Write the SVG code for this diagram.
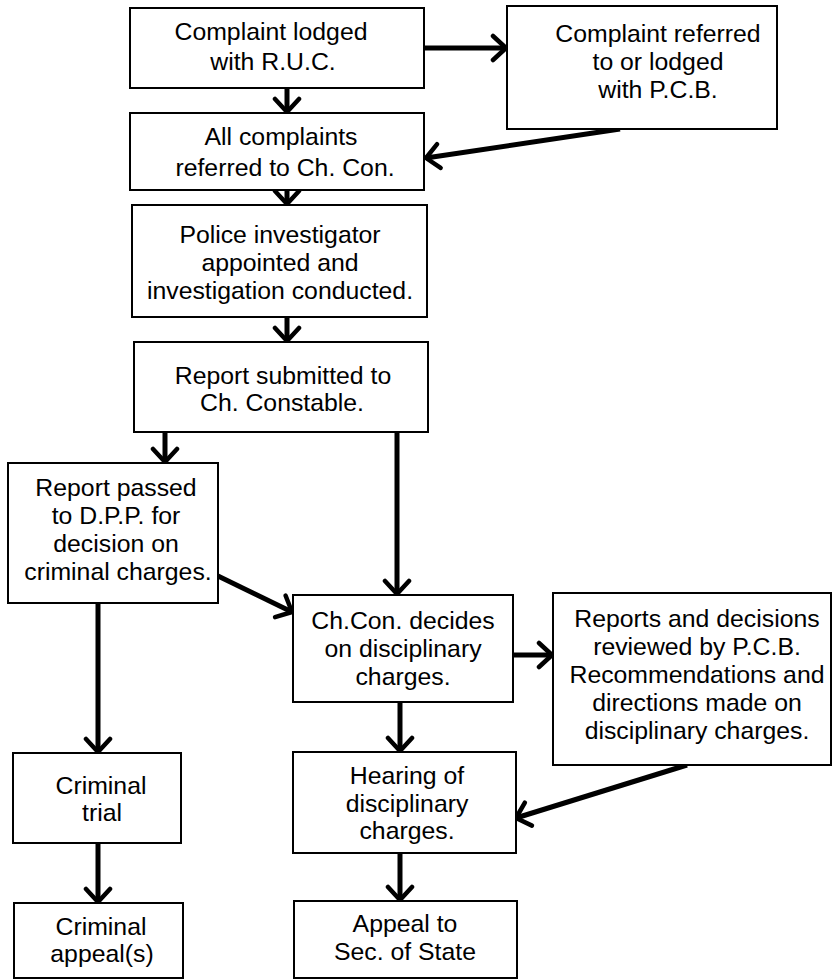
<svg xmlns="http://www.w3.org/2000/svg" width="834" height="980" viewBox="0 0 834 980">
<style>
  .box { fill: #fff; stroke: #000; stroke-width: 2; }
  .t { font-family: "Liberation Sans", Arial, sans-serif; font-size: 24.8px; fill: #000; text-anchor: middle; }
  .c { fill: none; stroke: #000; stroke-width: 5; }
</style>
<defs>
  <marker id="ah" viewBox="-18 -15 22 30" refX="0" refY="0" markerWidth="22" markerHeight="30" markerUnits="userSpaceOnUse" orient="auto">
    <path d="M-13,-12 L0,0 L-13,12" fill="none" stroke="#000" stroke-width="4.5" stroke-linejoin="round" stroke-linecap="round"/>
  </marker>
</defs>
<rect width="834" height="980" fill="#fff"/>

<g id="connectors">
  <line class="c" x1="287" y1="88" x2="287" y2="112" marker-end="url(#ah)"/>
  <line class="c" x1="424" y1="48" x2="506" y2="48" marker-end="url(#ah)"/>
  <line class="c" x1="620" y1="129" x2="426" y2="158" marker-end="url(#ah)"/>
  <line class="c" x1="287" y1="190" x2="287" y2="204" marker-end="url(#ah)"/>
  <line class="c" x1="287" y1="317" x2="287" y2="341" marker-end="url(#ah)"/>
  <line class="c" x1="165" y1="432" x2="165" y2="462" marker-end="url(#ah)"/>
  <line class="c" x1="397" y1="432" x2="397" y2="594" marker-end="url(#ah)"/>
  <line class="c" x1="218" y1="576" x2="292" y2="612" marker-end="url(#ah)"/>
  <line class="c" x1="98" y1="603" x2="98" y2="752" marker-end="url(#ah)"/>
  <line class="c" x1="98" y1="843" x2="98" y2="902" marker-end="url(#ah)"/>
  <line class="c" x1="513" y1="655" x2="552" y2="655" marker-end="url(#ah)"/>
  <line class="c" x1="400" y1="702" x2="400" y2="751" marker-end="url(#ah)"/>
  <line class="c" x1="687" y1="765" x2="516" y2="818" marker-end="url(#ah)"/>
  <line class="c" x1="400" y1="853" x2="400" y2="900" marker-end="url(#ah)"/>
</g>

<g id="n-lodged-ruc">
  <rect class="box" x="130" y="8" width="294" height="80"/>
  <text class="t" x="271" y="40">Complaint lodged</text>
  <text class="t" x="273" y="70">with R.U.C.</text>
</g>

<g id="n-pcb">
  <rect class="box" x="507" y="6" width="270" height="123"/>
  <text class="t" x="658" y="42">Complaint referred</text>
  <text class="t" x="658" y="70">to or lodged</text>
  <text class="t" x="658" y="98">with P.C.B.</text>
</g>

<g id="n-all-complaints">
  <rect class="box" x="130" y="113" width="294" height="77"/>
  <text class="t" x="281" y="145">All complaints</text>
  <text class="t" x="285" y="176">referred to Ch. Con.</text>
</g>

<g id="n-investigator">
  <rect class="box" x="132" y="205" width="295" height="112"/>
  <text class="t" x="280" y="243">Police investigator</text>
  <text class="t" x="280" y="271">appointed and</text>
  <text class="t" x="280" y="299">investigation conducted.</text>
</g>

<g id="n-report">
  <rect class="box" x="134" y="342" width="294" height="90"/>
  <text class="t" x="283" y="384">Report submitted to</text>
  <text class="t" x="282" y="411">Ch. Constable.</text>
</g>

<g id="n-dpp">
  <rect class="box" x="8" y="463" width="210" height="140"/>
  <text class="t" x="116" y="496">Report passed</text>
  <text class="t" x="116" y="524">to D.P.P. for</text>
  <text class="t" x="116" y="552">decision on</text>
  <text class="t" x="118" y="580">criminal charges.</text>
</g>

<g id="n-chcon">
  <rect class="box" x="293" y="595" width="220" height="107"/>
  <text class="t" x="403" y="629">Ch.Con. decides</text>
  <text class="t" x="403" y="657">on disciplinary</text>
  <text class="t" x="403" y="685">charges.</text>
</g>

<g id="n-reports-pcb">
  <rect class="box" x="553" y="593" width="278" height="172"/>
  <text class="t" x="697" y="627">Reports and decisions</text>
  <text class="t" x="697" y="655">reviewed by P.C.B.</text>
  <text class="t" x="697" y="683">Recommendations and</text>
  <text class="t" x="697" y="711">directions made on</text>
  <text class="t" x="697" y="739">disciplinary charges.</text>
</g>

<g id="n-criminal-trial">
  <rect class="box" x="13" y="753" width="168" height="90"/>
  <text class="t" x="101" y="794">Criminal</text>
  <text class="t" x="102" y="821">trial</text>
</g>

<g id="n-hearing">
  <rect class="box" x="293" y="752" width="223" height="101"/>
  <text class="t" x="407" y="784">Hearing of</text>
  <text class="t" x="407" y="812">disciplinary</text>
  <text class="t" x="407" y="839">charges.</text>
</g>

<g id="n-criminal-appeal">
  <rect class="box" x="14" y="903" width="169" height="75"/>
  <text class="t" x="101" y="935">Criminal</text>
  <text class="t" x="102" y="962">appeal(s)</text>
</g>

<g id="n-appeal-sos">
  <rect class="box" x="294" y="901" width="223" height="77"/>
  <text class="t" x="405" y="932">Appeal to</text>
  <text class="t" x="405" y="960">Sec. of State</text>
</g>
</svg>
